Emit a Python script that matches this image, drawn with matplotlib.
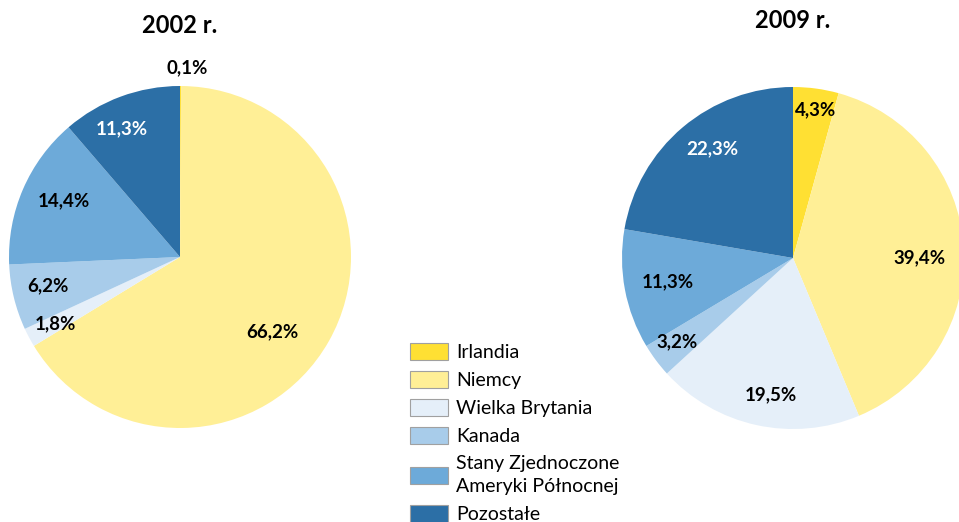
import matplotlib
matplotlib.use("Agg")
import matplotlib.pyplot as plt
import matplotlib.patches as mpatches

# data
countries = ["Irlandia", "Niemcy", "Wielka Brytania", "Kanada",
             "Stany Zjednoczone\nAmeryki Północnej", "Pozostałe"]
share2002 = [0.1, 66.2, 1.8, 6.2, 14.4, 11.3]
share2009 = [4.3, 39.4, 19.5, 3.2, 11.3, 22.3]
years = ["2002 r.", "2009 r."]

colors = ["#FFE033", "#FFEF96", "#E5EFF9", "#A8CCEA", "#6DAAD9", "#2C6FA6"]
txtColors2002 = ["black", "black", "black", "black", "black", "white"]
txtColors2009 = ["black", "black", "black", "black", "black", "white"]

# label positions in radius units (x, y) relative to centre
labelPos2002 = [(0.04, 1.105), (0.54, -0.44), (-0.73, -0.39),
                (-0.77, -0.17), (-0.68, 0.33), (-0.34, 0.75)]
labelPos2009 = [(0.13, 0.865), (0.74, 0.0), (-0.13, -0.80),
                (-0.68, -0.49), (-0.73, -0.14), (-0.47, 0.64)]

plt.rcParams['font.family'] = ['Lato', 'DejaVu Sans']

W, H = 959, 522
fig = plt.figure(figsize=(W / 100, H / 100), dpi=100)


def pieAxes(cx, cy, r):
    # pixel centre/radius -> figure fraction axes
    return fig.add_axes([(cx - r) / W, (H - cy - r) / H, 2 * r / W, 2 * r / H])


def drawPie(ax, values, labelPos, txtColors, title, titleY):
    ax.pie(values, colors=colors, startangle=90, counterclock=False,
           radius=1, wedgeprops=dict(linewidth=0))
    ax.set_xlim(-1, 1)
    ax.set_ylim(-1, 1)
    ax.set_aspect("equal")
    ax.axis("off")
    for v, (x, y), c in zip(values, labelPos, txtColors):
        lbl = ("%.1f%%" % v).replace(".", ",")
        ax.text(x, y, lbl, ha="center", va="center", fontsize=13.5,
                fontweight="bold", color=c)
    ax.text(0, titleY, title, ha="center", va="center", fontsize=17,
            fontweight="bold")


ax1 = pieAxes(180, 257, 171)
drawPie(ax1, share2002, labelPos2002, txtColors2002, years[0], 1.355)

ax2 = pieAxes(793, 258, 171)
drawPie(ax2, share2009, labelPos2009, txtColors2009, years[1], 1.39)

handles = [mpatches.Patch(facecolor=c, edgecolor="#A0A0A0", linewidth=0.8)
           for c in colors]
leg = fig.legend(handles, countries, loc="upper left",
                 bbox_to_anchor=(402 / W, 1 - 335 / H), frameon=False,
                 fontsize=14, handlelength=1.95, handleheight=1.0,
                 handletextpad=0.45, labelspacing=0.5, borderaxespad=0)
for t in leg.get_texts():
    t.set_linespacing(1.45)

fig.savefig("out.png", dpi=100)
